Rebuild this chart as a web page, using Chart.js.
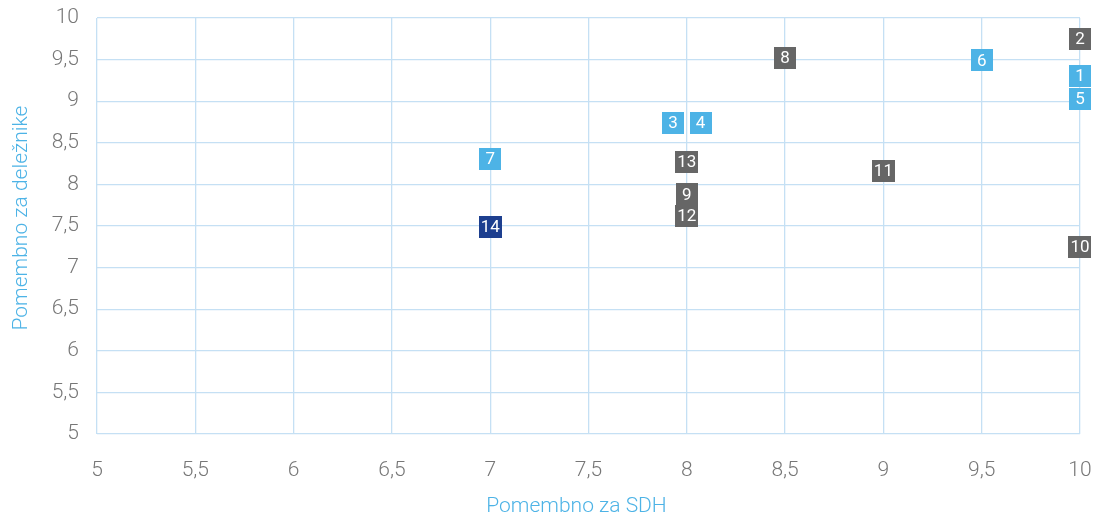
<!DOCTYPE html>
<html>
<head>
<meta charset="utf-8">
<script src="https://cdn.jsdelivr.net/npm/chart.js@4"></script>
<style>
  html, body { margin: 0; padding: 0; background: #fff; }
  #wrap { width: 1096px; height: 515px; position: relative; }
</style>
</head>
<body>
<div id="wrap"><canvas id="chart"></canvas></div>
<script>
// data
const ids = ["1", "2", "3", "4", "5", "6", "7", "8", "9", "10", "11", "12", "13", "14"];
const sdh = [10, 10, 7.93, 8.07, 10, 9.5, 7, 8.5, 8, 10, 9, 8, 8, 7];
const delezniki = [9.3, 9.75, 8.74, 8.74, 9.03, 9.49, 8.31, 9.52, 7.88, 7.25, 8.16, 7.62, 8.27, 7.49];
const groups = ["a", "b", "a", "a", "a", "a", "a", "b", "b", "b", "b", "b", "b", "c"];
const xTicks = [5, 5.5, 6, 6.5, 7, 7.5, 8, 8.5, 9, 9.5, 10];
const yTicks = [5, 5.5, 6, 6.5, 7, 7.5, 8, 8.5, 9, 9.5, 10];
const xTitle = "Pomembno za SDH";
const yTitle = "Pomembno za deležnike";

const groupColors = { a: "#4db3e6", b: "#666666", c: "#1d3f8f" };
const titleColor = "#4db3e6";
const fmt = v => String(v).replace(".", ",");

const points = sdh.map((x, i) => ({ x: x, y: delezniki[i] }));

// numbered boxes at each point + the two axis titles
const boxLabels = {
  id: "boxLabels",
  afterDatasetsDraw(chart) {
    const ctx = chart.ctx;
    const meta = chart.getDatasetMeta(0);
    ctx.save();
    ctx.font = "400 17px Roboto";
    ctx.textAlign = "center";
    ctx.textBaseline = "middle";
    meta.data.forEach((el, i) => {
      const w = Math.max(22, ctx.measureText(ids[i]).width + 4);
      const h = 22;
      ctx.fillStyle = groupColors[groups[i]];
      ctx.fillRect(Math.round(el.x - w / 2), Math.round(el.y - h / 2), Math.round(w), h);
      ctx.fillStyle = "#ffffff";
      ctx.fillText(ids[i], el.x, el.y + 1);
    });
    ctx.restore();
  },
  afterDraw(chart) {
    const ctx = chart.ctx;
    const a = chart.chartArea;
    ctx.save();
    ctx.font = "300 21px Roboto";
    ctx.fillStyle = titleColor;
    ctx.textAlign = "center";
    ctx.textBaseline = "middle";
    ctx.fillText(xTitle, (a.left + a.right) / 2 - 12, 507);
    ctx.translate(22, (a.top + a.bottom) / 2 - 8);
    ctx.rotate(-Math.PI / 2);
    ctx.fillText(yTitle, 0, 0);
    ctx.restore();
  }
};

new Chart(document.getElementById("chart"), {
  type: "scatter",
  data: {
    datasets: [{
      data: points,
      pointRadius: 0,
      pointHoverRadius: 0,
      backgroundColor: groups.map(g => groupColors[g])
    }]
  },
  options: {
    responsive: true,
    maintainAspectRatio: false,
    animation: false,
    layout: { padding: { top: 18, right: 16, left: 10, bottom: 0 } },
    plugins: {
      legend: { display: false },
      tooltip: { enabled: false }
    },
    scales: {
      x: {
        type: "linear",
        min: 5,
        max: 10,
        afterBuildTicks: axis => { axis.ticks = xTicks.map(v => ({ value: v })); },
        afterFit: axis => {
          axis.height = 81;
          axis.paddingLeft = 0;
          axis.paddingRight = 0;
        },
        grid: { color: "#c5e0f4", lineWidth: 1.3, drawTicks: false },
        border: { display: false },
        ticks: {
          padding: 24,
          maxRotation: 0,
          color: "#777777",
          font: { family: "Roboto", size: 21, weight: 300 },
          callback: v => fmt(v)
        },
        title: { display: false }
      },
      y: {
        type: "linear",
        min: 5,
        max: 10,
        afterBuildTicks: axis => { axis.ticks = yTicks.map(v => ({ value: v })); },
        afterFit: axis => {
          axis.width = 87;
          axis.paddingTop = 0;
          axis.paddingBottom = 0;
        },
        grid: { color: "#c5e0f4", lineWidth: 1.3, drawTicks: false },
        border: { display: false },
        ticks: {
          padding: 18,
          color: "#777777",
          font: { family: "Roboto", size: 21, weight: 300 },
          callback: v => fmt(v)
        },
        title: { display: false }
      }
    }
  },
  plugins: [boxLabels]
});
</script>
</body>
</html>
